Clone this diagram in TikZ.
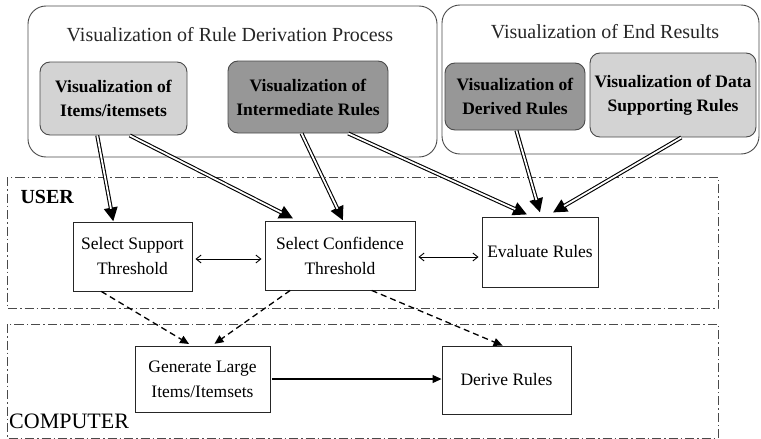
\documentclass[tikz,border=0pt]{standalone}
\usepackage{fontspec}
\setmainfont{Liberation Serif}
\usetikzlibrary{arrows.meta,calc}
\definecolor{lightbox}{HTML}{D3D3D3}
\definecolor{darkbox}{HTML}{979797}
\definecolor{edgegray}{HTML}{4A4A4A}
\newcommand\dblarr[2]{%
  \draw[line width=4pt,-{Triangle[length=14pt,width=13pt]}] #1 -- #2;
  \draw[line width=1.8pt,white,shorten >=13pt] #1 -- #2;}
\begin{document}
\begin{tikzpicture}[x=1pt,y=-1pt,
  group/.style={draw=edgegray,line width=0.9pt,rounded corners=18pt},
  lane/.style={draw=edgegray,line width=0.9pt,dash pattern=on 9pt off 3pt on 1.5pt off 3pt},
  vis/.style={draw=edgegray,line width=0.9pt,rounded corners=10pt,align=center,
    font=\fontsize{17.5}{24}\selectfont\bfseries,inner sep=0pt},
  stepbox/.style={draw=black!85,line width=0.9pt,fill=white,align=center,
    font=\fontsize{17.5}{25}\selectfont,inner sep=0pt},
  gtitle/.style={font=\fontsize{20}{24}\selectfont,text=black!85},
  dasharr/.style={line width=1.3pt,dash pattern=on 6pt off 4pt,-{Triangle[length=9pt,width=8pt]}},
  thinarr/.style={line width=0.9pt,{Straight Barb[length=5pt,width=8pt]}-{Straight Barb[length=5pt,width=8pt]}},
  solidarr/.style={line width=1.1pt,-{Triangle[length=9pt,width=8pt]}}]
\useasboundingbox (0,0) rectangle (761,439);

% groups
\draw[group] (28,6) rectangle (437,157);
\draw[group] (442,5) rectangle (759,154);
\node[gtitle] (t1) at (230,35) {Visualization of Rule Derivation Process};
\node[gtitle] (t2) at (605,32) {Visualization of End Results};

% lanes
\draw[lane] (7,177) rectangle (718,308);
\draw[lane] (7,324) rectangle (718,438);
\node[font=\fontsize{20}{24}\selectfont\bfseries,anchor=base west] (user) at (17,203) {USER};
\node[font=\fontsize{22}{24}\selectfont,anchor=base west,inner sep=0pt] (comp) at (9,428) {COMPUTER};

% visualization nodes
\node[vis,fill=lightbox,minimum width=147pt,minimum height=73pt] (items) at (113.5,98.5) {Visualization of\\Items/itemsets};
\node[vis,fill=darkbox,minimum width=160pt,minimum height=72pt] (inter) at (308,97) {Visualization of\\Intermediate Rules};
\node[vis,fill=darkbox,minimum width=140pt,minimum height=67pt] (derived) at (515,96.5) {Visualization of\\Derived Rules};
\node[vis,fill=lightbox,minimum width=166pt,minimum height=84pt] (datasup) at (673,95) {Visualization of Data\\Supporting Rules};

% process nodes
\node[stepbox,minimum width=119pt,minimum height=69pt] (sup) at (132.5,256.5) {Select Support\\Threshold};
\node[stepbox,minimum width=150pt,minimum height=69pt] (conf) at (340,255.5) {Select Confidence\\Threshold};
\node[stepbox,minimum width=116pt,minimum height=70pt] (eval) at (540,252) {Evaluate Rules};
\node[stepbox,minimum width=135pt,minimum height=66pt] (gen) at (202.5,379) {Generate Large\\Items/Itemsets};
\node[stepbox,minimum width=129pt,minimum height=68pt] (der) at (506.5,380) {Derive Rules};

% double arrows
\dblarr{($(items.south west)!0.39!(items.south east)$)}{($(sup.north west)!0.34!(sup.north east)$)}
\dblarr{($(items.south west)!0.61!(items.south east)$)}{([yshift=2pt]$(conf.north west)!0.19!(conf.north east)$)}
\dblarr{($(inter.south west)!0.46!(inter.south east)$)}{($(conf.north west)!0.52!(conf.north east)$)}
\dblarr{($(inter.south west)!0.75!(inter.south east)$)}{([yshift=2pt]$(eval.north west)!0.39!(eval.north east)$)}
\dblarr{($(derived.south west)!0.51!(derived.south east)$)}{([yshift=4pt]$(eval.north west)!0.5!(eval.north east)$)}
\dblarr{($(datasup.south west)!0.55!(datasup.south east)$)}{([yshift=4pt]$(eval.north west)!0.61!(eval.north east)$)}

% thin double-headed arrows
\draw[thinarr,shorten <=3pt,shorten >=3pt] ([yshift=-2.5pt]sup.east) -- ([yshift=-2.5pt]sup.east -| conf.west);
\draw[thinarr,shorten <=3pt,shorten >=3pt] ([yshift=-1.5pt]conf.east) -- ([yshift=-1.5pt]conf.east -| eval.west);

% dashed arrows
\draw[dasharr,shorten >=3pt] ($(sup.south west)!0.24!(sup.south east)$) -- ($(gen.north west)!0.42!(gen.north east)$);
\draw[dasharr,shorten >=3pt] ($(conf.south west)!0.17!(conf.south east)$) -- ($(gen.north west)!0.57!(gen.north east)$);
\draw[dasharr] ($(conf.south west)!0.71!(conf.south east)$) -- ($(der.north west)!0.47!(der.north east)$);

% solid arrow
\draw[solidarr,shorten <=2pt] (gen.east) -- (gen.east -| der.west);
\end{tikzpicture}
\end{document}
